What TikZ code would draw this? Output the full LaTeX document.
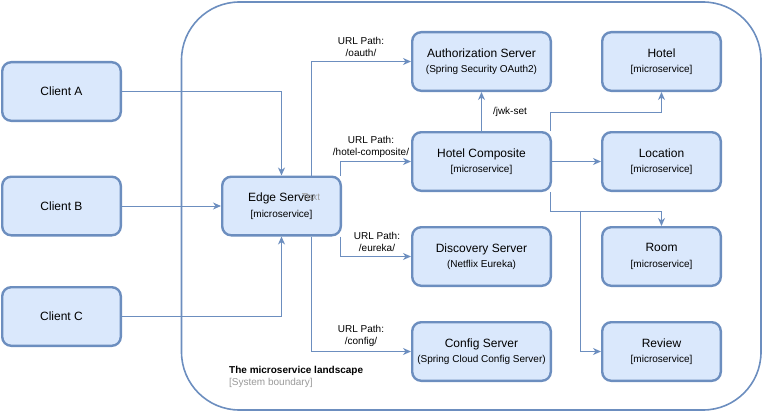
\documentclass[tikz,border=0pt]{standalone}
\usepackage{fontspec}
\setmainfont{Liberation Sans}
\usetikzlibrary{positioning,arrows.meta}

\definecolor{boxfill}{HTML}{DAE8FC}
\definecolor{boxline}{HTML}{6C8EBF}
\definecolor{boundgray}{HTML}{999999}

\tikzset{
  box/.style={draw=boxline, fill=boxfill, line width=2.4pt, rounded corners=9pt,
    minimum height=58.6pt, align=center, font=\fontsize{12}{15.5}\selectfont},
  client/.style={box, minimum width=118.6pt},
  service/.style={box, minimum width=138.6pt},
  conn/.style={draw=boxline, line width=1pt,
    -{Stealth[length=8pt,width=7pt,inset=2.5pt]}},
  path label/.style={inner sep=0pt, align=center, font=\fontsize{10}{12}\selectfont},
}
\newcommand{\subtxt}[1]{{\fontsize{10}{12}\selectfont #1}}

\begin{document}
\begin{tikzpicture}[x=1pt, y=-1pt]
    \useasboundingbox (0,0) rectangle (763,412);

    % system boundary
    \draw[boxline, line width=1.6pt, rounded corners=58pt] (181.5,2) rectangle (761,410);
    \node[path label, anchor=west, font=\bfseries\fontsize{10}{12}\selectfont] (sysname) at (229,370.5) {The microservice landscape};
    \node[path label, anchor=west, text=boundgray] (sysnote) at (229,382.5) {[System boundary]};

    % clients and edge
    \node[client] (ca) at (61.5,91.5) {Client A};
    \node[client, below=53.5pt of ca] (cb) {Client B};
    \node[client, below=49.5pt of cb] (cc) {Client C};
    \node[client, right=99pt of cb] (edge) {Edge Server\\\subtxt{[microservice]}};
    \node[path label, text=gray!75] (stray) at (311,197) {Text};

    % servers
    \node[service] (auth) at (481.5,61.5) {Authorization Server\\\subtxt{(Spring Security OAuth2)}};
    \node[service, below=39pt of auth] (comp) {Hotel Composite\\\subtxt{[microservice]}};
    \node[service, below=34pt of comp] (disc) {Discovery Server\\\subtxt{(Netflix Eureka)}};
    \node[service, below=34pt of disc] (conf) {Config Server\\\subtxt{(Spring Cloud Config Server)}};

    % core microservices
    \node[client, right=49pt of auth] (hotel) {Hotel\\\subtxt{[microservice]}};
    \node[client, right=49pt of comp] (loc) {Location\\\subtxt{[microservice]}};
    \node[client, right=49pt of disc] (room) {Room\\\subtxt{[microservice]}};
    \node[client, right=49pt of conf] (rev) {Review\\\subtxt{[microservice]}};

    % routes
    \node[path label] (poauth) at (361,46.5) {URL Path:\\/oauth/};
    \node[path label] (pcomp) at (371,147) {URL Path:\\/hotel-composite/};
    \node[path label] (peureka) at (377,242) {URL Path:\\/eureka/};
    \node[path label] (pconfig) at (361,335.5) {URL Path:\\/config/};

    \draw[conn] (ca) -| (edge);
    \draw[conn] (cb) -- (edge);
    \draw[conn] (cc) -| (edge);

    \draw[conn] ([xshift=29.5pt]edge.north) |- (auth);
    \draw[conn] ([xshift=-1.7pt]edge.north east) |- (comp);
    \draw[conn] ([xshift=-1.7pt]edge.south east) |- (disc);
    \draw[conn] ([xshift=29.5pt]edge.south) |- (conf);

    \draw[conn] (comp) -- node[midway, right=11pt, path label] (jwk) {/jwk-set} (auth);
    \draw[conn] (comp) -- (loc);
    \draw[conn] ([xshift=-1.7pt]comp.north east) -- ++(0,-19) -| (hotel);
    \draw[conn] ([xshift=-1.7pt]comp.south east) -- ++(0,19) coordinate (fork) -| (room);
    \path (fork) ++(30.5,0) coordinate (split);
    \draw[conn] (split) |- (rev);
\end{tikzpicture}
\end{document}
